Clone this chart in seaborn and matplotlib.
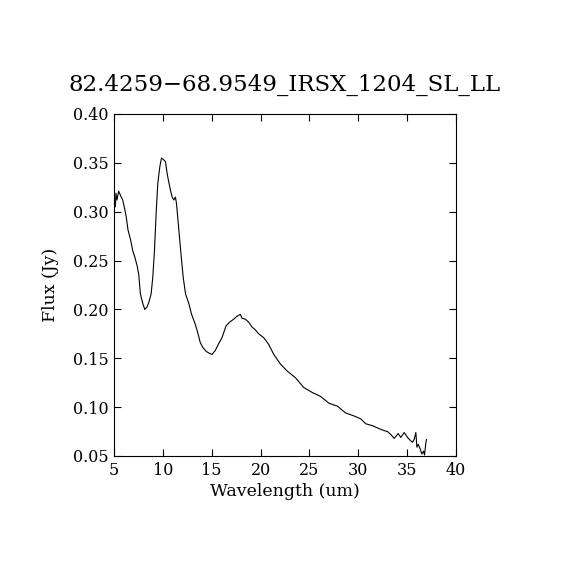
import numpy as np
import pandas as pd
import seaborn as sns
import matplotlib
matplotlib.use("Agg")
import matplotlib.pyplot as plt

# spectrum (wavelength in um, flux in Jy)
wavelength = [5.14, 5.2, 5.3, 5.48, 5.65, 5.89, 6.09, 6.23, 6.44, 6.68, 6.92,
              7.12, 7.36, 7.53, 7.70, 7.95, 8.15, 8.35, 8.56, 8.80, 8.97, 9.14,
              9.31, 9.48, 9.69, 9.86, 10.10, 10.27, 10.44, 10.61, 10.78, 10.95,
              11.13, 11.29, 11.4, 11.64, 11.88, 12.08, 12.32, 12.66, 12.94,
              13.31, 13.55, 13.83, 14.10, 14.44, 14.78, 15.03, 15.37, 15.71,
              16.05, 16.29, 16.46, 16.83, 17.25, 17.59, 17.93, 18.1, 18.45,
              18.78, 19.13, 19.47, 19.81, 20.33, 20.84, 21.35, 22.04, 22.72,
              23.58, 24.43, 25.29, 26.14, 27.0, 27.86, 28.71, 29.56, 30.25,
              30.76, 31.45, 32.13, 32.64, 32.99, 33.33, 33.67, 34.08, 34.35,
              34.7, 35.04, 35.32, 35.55, 35.72, 35.89, 36.0, 36.13, 36.34,
              36.51, 36.68, 36.78, 36.92, 36.99]
flux = [0.305, 0.319, 0.312, 0.321, 0.317, 0.312, 0.303, 0.296, 0.281, 0.272,
        0.260, 0.254, 0.245, 0.236, 0.216, 0.206, 0.200, 0.202, 0.207, 0.216,
        0.233, 0.260, 0.298, 0.329, 0.346, 0.355, 0.353, 0.351, 0.339, 0.330,
        0.322, 0.315, 0.312, 0.315, 0.308, 0.281, 0.254, 0.233, 0.216, 0.206,
        0.195, 0.185, 0.177, 0.166, 0.161, 0.157, 0.155, 0.154, 0.158, 0.165,
        0.171, 0.178, 0.183, 0.187, 0.190, 0.193, 0.195, 0.191, 0.190, 0.187,
        0.182, 0.179, 0.175, 0.171, 0.164, 0.154, 0.144, 0.137, 0.130, 0.120,
        0.115, 0.111, 0.104, 0.101, 0.094, 0.091, 0.088, 0.083, 0.081, 0.078,
        0.076, 0.075, 0.072, 0.068, 0.073, 0.069, 0.074, 0.069, 0.066, 0.064,
        0.067, 0.074, 0.059, 0.062, 0.057, 0.052, 0.055, 0.051, 0.064, 0.067]

x_ticks = [5, 10, 15, 20, 25, 30, 35, 40]
y_ticks = [0.05, 0.10, 0.15, 0.20, 0.25, 0.30, 0.35, 0.40]
title = "82.4259\u221268.9549_IRSX_1204_SL_LL"

sns.set_style("ticks")
plt.rcParams['font.family'] = ['DejaVu Serif', 'DejaVu Sans']
plt.rcParams['text.color'] = 'black'
plt.rcParams['axes.labelcolor'] = 'black'

df = pd.DataFrame({"wl": wavelength, "flux": flux})

fig = plt.figure(figsize=(5.7, 5.7), dpi=100)
ax = fig.add_axes([0.2, 0.2, 0.6, 0.6])
sns.lineplot(data=df, x="wl", y="flux", ax=ax, color="black", linewidth=0.8,
             sort=False, estimator=None)

ax.set_xlim(5, 40)
ax.set_ylim(0.05, 0.40)
ax.set_xticks(x_ticks)
ax.set_yticks(y_ticks)
ax.set_yticklabels([f"{v:.2f}" for v in y_ticks])
ax.tick_params(direction="in", length=5, width=0.8, top=True, right=True,
               labelsize=11.5, colors="black", pad=4)
for s in ax.spines.values():
    s.set_linewidth(0.8)
    s.set_color("black")
    s.set_visible(True)
ax.set_xlabel("Wavelength (um)", fontsize=12.5, labelpad=3)
ax.set_ylabel("Flux (Jy)", fontsize=12.5, labelpad=10)
ax.set_title(title, fontsize=16.5, pad=17)

fig.savefig("out.png", dpi=100, facecolor="white")
